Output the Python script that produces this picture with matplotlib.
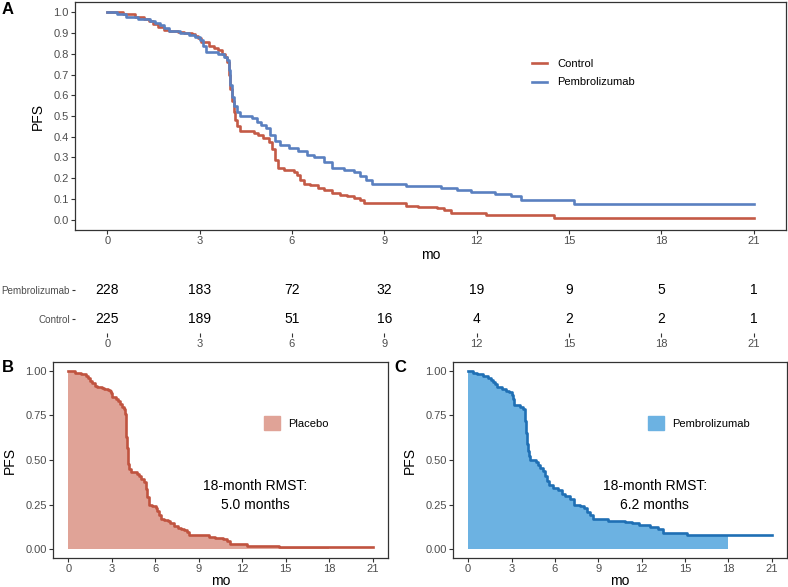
import numpy as np
import matplotlib
matplotlib.use('Agg')
import matplotlib.pyplot as plt
from matplotlib.patches import Patch

plt.rcParams['font.family'] = ['Liberation Sans', 'DejaVu Sans']

# Kaplan-Meier step data (months, PFS)
ctrl_t = [0, 0.5, 0.9, 1.2, 1.35, 1.5, 1.65, 1.85, 2.0, 2.3, 2.5, 2.75, 2.85, 2.95, 3.05,
          3.3, 3.45, 3.6, 3.72, 3.82, 3.9, 3.95, 4.0, 4.05, 4.1, 4.15, 4.2, 4.3, 4.75, 4.9,
          5.05, 5.25, 5.35, 5.45, 5.55, 5.75, 6.05, 6.15, 6.25, 6.4, 6.6, 6.85, 7.05, 7.3,
          7.55, 7.8, 8.0, 8.2, 8.35, 9.7, 10.1, 10.7, 10.95, 11.15, 12.3, 14.5, 21]
ctrl_s = [1.0, 0.99, 0.98, 0.97, 0.96, 0.945, 0.93, 0.915, 0.91, 0.905, 0.9, 0.895, 0.885,
          0.875, 0.855, 0.84, 0.83, 0.817, 0.80, 0.785, 0.76, 0.70, 0.63, 0.57, 0.52, 0.48,
          0.45, 0.43, 0.42, 0.41, 0.395, 0.375, 0.34, 0.29, 0.25, 0.24, 0.23, 0.215, 0.19,
          0.17, 0.165, 0.155, 0.145, 0.13, 0.12, 0.115, 0.105, 0.095, 0.08, 0.068, 0.062,
          0.055, 0.045, 0.03, 0.02, 0.01, 0.01]

pem_t = [0, 0.3, 0.6, 1.0, 1.4, 1.55, 1.7, 1.85, 2.0, 2.35, 2.65, 2.85, 3.0, 3.1, 3.2, 3.6,
         3.8, 3.9, 3.95, 4.0, 4.05, 4.12, 4.2, 4.3, 4.7, 4.85, 5.0, 5.17, 5.3, 5.45, 5.6,
         5.9, 6.2, 6.5, 6.7, 7.05, 7.3, 7.7, 8.0, 8.2, 8.4, 8.6, 9.7, 10.85, 11.35, 11.8,
         12.6, 13.1, 13.45, 15.15, 21]
pem_s = [1.0, 0.99, 0.98, 0.97, 0.96, 0.95, 0.94, 0.925, 0.91, 0.90, 0.89, 0.88, 0.865, 0.84,
         0.81, 0.80, 0.785, 0.77, 0.72, 0.65, 0.59, 0.55, 0.52, 0.50, 0.49, 0.47, 0.455,
         0.44, 0.41, 0.38, 0.36, 0.345, 0.33, 0.31, 0.30, 0.28, 0.25, 0.24, 0.23, 0.21,
         0.19, 0.17, 0.16, 0.153, 0.145, 0.135, 0.125, 0.115, 0.093, 0.077, 0.077]

risk_times = [0, 3, 6, 9, 12, 15, 18, 21]
risk_pem = [228, 183, 72, 32, 19, 9, 5, 1]
risk_ctrl = [225, 189, 51, 16, 4, 2, 2, 1]

rmst_ctrl = "18-month RMST:\n5.0 months"
rmst_pem = "18-month RMST:\n6.2 months"

W, H = 788, 587
RED = '#C45A46'
BLUE = '#5A80C0'
TICK_C = '#4D4D4D'
FRAME_C = '#333333'


def box(l, t, r, b):
    return [l / W, 1 - b / H, (r - l) / W, (b - t) / H]


def style_axes(ax, frame=True):
    for sp in ax.spines.values():
        sp.set_visible(frame)
        sp.set_color(FRAME_C)
        sp.set_linewidth(0.9)
    ax.tick_params(colors=FRAME_C, labelcolor=TICK_C, labelsize=8, length=3, width=0.8, pad=1.5)


fig = plt.figure(figsize=(W / 100, H / 100), dpi=100)

# ---- Panel A
axA = fig.add_axes(box(75, 2, 786, 230))
axA.step(ctrl_t, ctrl_s, where='post', color=RED, lw=1.9, label='Control')
axA.step(pem_t, pem_s, where='post', color=BLUE, lw=1.9, label='Pembrolizumab')
axA.set_xlim(-1.05, 22.05)
axA.set_ylim(-0.05, 1.05)
axA.set_xticks(np.arange(0, 22, 3))
axA.set_yticks(np.arange(0, 1.01, 0.1))
axA.set_yticklabels([f'{v:.1f}' for v in np.arange(0, 1.01, 0.1)])
style_axes(axA)
axA.set_xlabel('mo', fontsize=10, labelpad=1)
axA.set_ylabel('PFS', fontsize=10, labelpad=6)
axA.legend(loc='center left', bbox_to_anchor=(526 / W, 1 - 73 / H),
           bbox_transform=fig.transFigure, frameon=False, fontsize=8,
           handlelength=1.4, handletextpad=0.9, labelspacing=0.8, borderpad=0)

# ---- Risk table
axR = fig.add_axes(box(75, 275, 786, 333))
axR.set_xlim(-1.05, 22.05)
axR.set_ylim(0.52, 2.52)
for t, n1, n2 in zip(risk_times, risk_pem, risk_ctrl):
    axR.text(t, 2, str(n1), ha='center', va='center', fontsize=10)
    axR.text(t, 1, str(n2), ha='center', va='center', fontsize=10)
axR.set_xticks(risk_times)
axR.set_yticks([2, 1])
axR.set_yticklabels(['Pembrolizumab', 'Control'])
style_axes(axR, frame=False)
axR.tick_params(axis='x', length=3, pad=1)
axR.tick_params(axis='y', labelsize=7.1, length=2.5, pad=1)

# ---- Panels B and C
panels = [
    (box(53, 362, 388, 558), ctrl_t, ctrl_s, '#C0533F', '#E0A397', 'Placebo', rmst_ctrl, 258),
    (box(453, 362, 787, 558), pem_t, pem_s, '#1F6FB4', '#6CB2E2', 'Pembrolizumab', rmst_pem, 642),
]
for pos, t, s, lc, fc, name, rmst, legx in panels:
    ax = fig.add_axes(pos)
    t = np.array(t)
    s = np.array(s)
    m = t <= 18
    tt = np.append(t[m], 18)
    ss = np.append(s[m], s[m][-1])
    ax.fill_between(tt, 0, ss, step='post', color=fc, lw=0)
    ax.step(t, s, where='post', color=lc, lw=1.9)
    ax.set_xlim(-1.05, 22.05)
    ax.set_ylim(-0.05, 1.05)
    ax.set_xticks(np.arange(0, 22, 3))
    ax.set_yticks([0, 0.25, 0.5, 0.75, 1.0])
    ax.set_yticklabels(['0.00', '0.25', '0.50', '0.75', '1.00'])
    style_axes(ax)
    ax.tick_params(axis='x', pad=1)
    ax.set_xlabel('mo', fontsize=10, labelpad=0)
    ax.set_ylabel('PFS', fontsize=10, labelpad=6)
    ax.legend(handles=[Patch(color=fc, label=name)], loc='center left',
              bbox_to_anchor=(legx / W, 1 - 423 / H), bbox_transform=fig.transFigure,
              frameon=False, fontsize=8, handlelength=1.5, handleheight=1.5,
              handletextpad=0.7, borderpad=0)
    ax.text(12.9, 0.3, rmst, ha='center', va='center', fontsize=10, linespacing=1.5)

fig.text(8 / W, 1 - 10 / H, 'A', fontsize=12, fontweight='bold', ha='center', va='center')
fig.text(8 / W, 1 - 367 / H, 'B', fontsize=12, fontweight='bold', ha='center', va='center')
fig.text(400 / W, 1 - 367 / H, 'C', fontsize=12, fontweight='bold', ha='center', va='center')

fig.savefig('out.png', dpi=100)
